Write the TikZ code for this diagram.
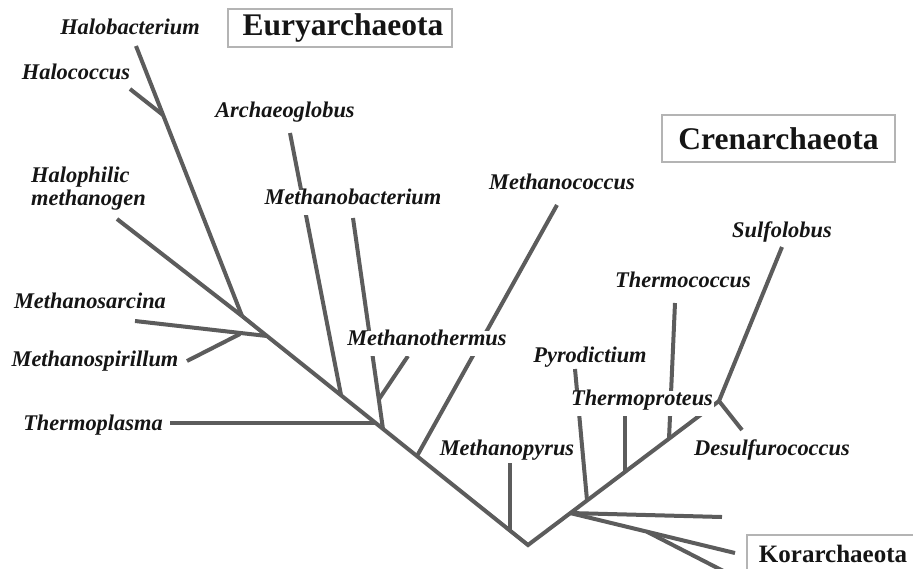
\documentclass[tikz,border=0pt]{standalone}
\usepackage{fontspec}
\setmainfont{Liberation Serif}
\usepackage{xcolor}
\usepackage{tikz}
\usetikzlibrary{calc}
\definecolor{tbranch}{HTML}{5C5C5C}
\definecolor{tframe}{HTML}{B4B4B4}
\definecolor{tink}{HTML}{151515}

\begin{document}
\begin{tikzpicture}[x=1pt, y=-1pt,
    branch/.style={draw=tbranch, line width=4pt, line join=miter},
    taxonfont/.style={font=\fontsize{22.4}{23.5}\selectfont\bfseries\itshape, text=tink},
    taxon/.style={taxonfont, anchor=base, inner xsep=1pt, inner ysep=7.5pt, text height=0.7em, text depth=0.25em},
    taxoncut/.style={taxon, fill=white},
    phylum/.style={draw=tframe, line width=1.2pt, fill=white, text=tink}]

  \useasboundingbox (0,0) rectangle (913,568);

  %% Branch points
  \coordinate (haloj) at (242,316);
  \coordinate (root) at (528,545);
  \coordinate (crenj) at (719,401);
  \coordinate (halobact tip) at (136,46);
  \coordinate (halococ fork) at (163,115);
  \coordinate (halococ tip) at (130,89);
  \coordinate (halometh tip) at (117,219);
  \coordinate (sarcina fork) at (267,336);
  \coordinate (sarcina tip) at (135,321);
  \coordinate (spir fork) at (240,334);
  \coordinate (spir tip) at (187,361);
  \coordinate (archaeo tip) at (290,133);
  \coordinate (archaeo fork) at (341,395);
  \coordinate (mbact tip) at (353,218);
  \coordinate (mbact fork) at (383,429);
  \coordinate (mtherm tip) at (408,356);
  \coordinate (mtherm fork) at ($(mbact tip)!0.86!(mbact fork)$);
  \coordinate (tplasma tip) at (170,423);
  \coordinate (tplasma fork) at (375,423);
  \coordinate (mcoccus tip) at (557,205);
  \coordinate (mcoccus fork) at (417,456);
  \coordinate (mpyrus tip) at (510,463);
  \coordinate (mpyrus fork) at (510,531);
  \coordinate (kor fork) at (570,513);
  \coordinate (kor1 tip) at (722,517);
  \coordinate (kor2 tip) at (735,553);
  \coordinate (kor3 fork) at ($(kor fork)!0.465!(kor2 tip)$);
  \coordinate (kor3 tip) at (735,577);
  \coordinate (pyro tip) at (575,369);
  \coordinate (pyro fork) at (587,500);
  \coordinate (tprot tip) at (625,415);
  \coordinate (tprot fork) at (625,472);
  \coordinate (tcoccus tip) at (675,303);
  \coordinate (tcoccus fork) at (669,439);
  \coordinate (sulfo tip) at (782,247);
  \coordinate (desulfo tip) at (742,430);

  %% Trunk
  \draw[branch] (haloj) -- (root) -- (crenj);

  %% Euryarchaeota branches
  \draw[branch] (halobact tip) -- (haloj);
  \draw[branch] (halococ tip) -- (halococ fork);
  \draw[branch] (halometh tip) -- (haloj);
  \draw[branch] (sarcina tip) -- (sarcina fork);
  \draw[branch] (spir tip) -- (spir fork);
  \draw[branch] (archaeo tip) -- (archaeo fork);
  \draw[branch] (mbact tip) -- (mbact fork);
  \draw[branch] (mtherm tip) -- (mtherm fork);
  \draw[branch] (tplasma tip) -- (tplasma fork);
  \draw[branch] (mcoccus tip) -- (mcoccus fork);
  \draw[branch] (mpyrus tip) -- (mpyrus fork);

  %% Korarchaeota branches
  \draw[branch] (kor fork) -- (kor1 tip);
  \draw[branch] (kor fork) -- (kor2 tip);
  \draw[branch] (kor3 fork) -- (kor3 tip);

  %% Crenarchaeota branches
  \draw[branch] (pyro tip) -- (pyro fork);
  \draw[branch] (tprot tip) -- (tprot fork);
  \draw[branch] (tcoccus tip) -- (tcoccus fork);
  \draw[branch] (sulfo tip) -- (crenj) -- (desulfo tip);

  %% Taxon labels (anchored on their baselines)
  \node[taxon] (halobacterium) at (130,34) {Halobacterium};
  \node[taxon] (halococcus) at (76,79) {Halococcus};
  \node[taxon] (archaeoglobus) at (285,117) {Archaeoglobus};
  \node[taxonfont, align=left, anchor=north west, inner sep=0pt] (halomethanogen) at (31,166.5)
    {Halophilic\\methanogen};
  \node[taxoncut] (methanobacterium) at (353,204.5) {Methanobacterium};
  \node[taxon] (methanococcus) at (562,189.5) {Methanococcus};
  \node[taxon] (sulfolobus) at (782,237) {Sulfolobus};
  \node[taxon] (thermococcus) at (683,287.5) {Thermococcus};
  \node[taxon] (methanosarcina) at (90,308.5) {Methanosarcina};
  \node[taxon] (methanospirillum) at (95,366.5) {Methanospirillum};
  \node[taxoncut] (methanothermus) at (427,345.5) {Methanothermus};
  \node[taxon] (pyrodictium) at (590,362.5) {Pyrodictium};
  \node[taxoncut] (thermoproteus) at (642,405.5) {Thermoproteus};
  \node[taxon] (thermoplasma) at (93,430.5) {Thermoplasma};
  \node[taxon] (methanopyrus) at (507,455.5) {Methanopyrus};
  \node[taxon] (desulfurococcus) at (772,455.5) {Desulfurococcus};

  %% Phylum boxes
  \node[phylum, font=\fontsize{31.5}{34}\selectfont\bfseries, minimum width=224pt, minimum height=38pt]
    (euryarchaeota) at (340,28) {\hspace*{6pt}Euryarchaeota};
  \node[phylum, font=\fontsize{31.5}{34}\selectfont\bfseries, minimum width=233pt, minimum height=47pt]
    (crenarchaeota) at (778.5,138.5) {Crenarchaeota};
  \node[phylum, font=\fontsize{25}{28}\selectfont\bfseries, minimum width=172pt, minimum height=37pt]
    (korarchaeota) at (833,553.5) {Korarchaeota};

\end{tikzpicture}
\end{document}
